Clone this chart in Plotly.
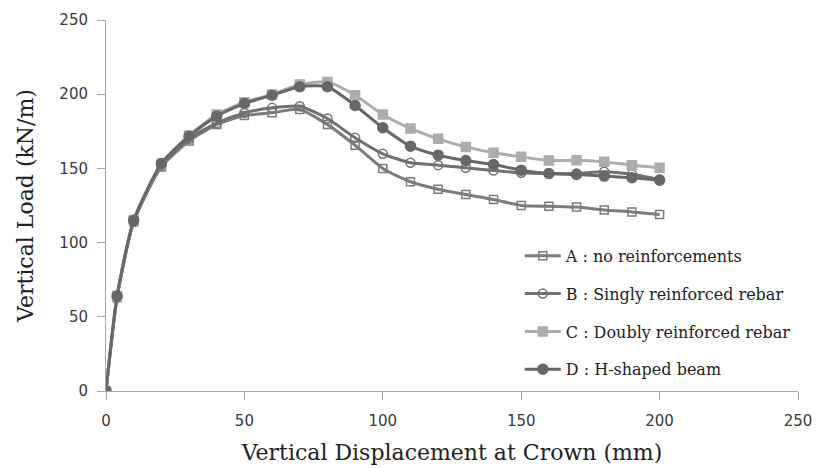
import plotly.graph_objects as go

x = [0, 4, 10, 20, 30, 40, 50, 60, 70, 80, 90, 100, 110, 120, 130, 140, 150, 160, 170, 180, 190, 200]
load_a = [0, 63, 114, 151, 168.5, 179.5, 185.6, 187.5, 189.7, 179.5, 165.6, 150, 141, 136, 132.4, 129, 125, 124.5, 124, 122, 120.7, 119]
load_b = [0, 63, 114, 152, 170, 180.5, 187.4, 190.8, 191.9, 183.6, 170.6, 159.8, 153.8, 152.2, 150.4, 148.6, 147, 146.5, 146.5, 147.7, 146, 142.5]
load_c = [0, 64, 115, 153, 172.2, 186.3, 194.6, 199.8, 206.5, 208.3, 199.3, 186.3, 176.9, 169.9, 164.5, 160.5, 157.8, 155.3, 155.5, 154.4, 152.2, 150.4]
load_d = [0, 64, 115, 153.3, 171.7, 185.2, 193.7, 199.3, 205, 205, 192.4, 177.4, 165, 158.9, 155.3, 152.6, 148.8, 146.6, 145.9, 144.8, 143.7, 142]

names = ["A : no reinforcements", "B : Singly reinforced rebar",
         "C : Doubly reinforced rebar", "D : H-shaped beam"]
series = [load_a, load_b, load_c, load_d]
colors = ["#7c7c7c", "#707070", "#acacac", "#676767"]
symbols = ["square-open", "circle-open", "square", "circle"]
msizes = [8, 9, 9, 10]

fig = go.Figure()
for n, y, c, s, ms in zip(names, series, colors, symbols, msizes):
    fig.add_trace(go.Scatter(
        x=x, y=y, name=n, mode="lines+markers",
        line=dict(color=c, width=3, shape="spline", smoothing=0.6),
        marker=dict(symbol=s, size=ms, color=c, line=dict(color=c, width=1.5)),
        legendgroup=n,
    ))

axis_common = dict(
    showgrid=False, zeroline=False, showline=True, linecolor="#a6a6a6", linewidth=1,
    ticks="outside", tickcolor="#a6a6a6", ticklen=8,
    tickfont=dict(family="DejaVu Sans", size=15, color="#3a3a3a"),
    range=[0, 250], dtick=50, automargin=False,
)

fig.update_layout(
    width=817, height=468,
    margin=dict(l=106, r=19, t=20, b=77),
    paper_bgcolor="white", plot_bgcolor="white",
    xaxis=dict(**axis_common, ticklabelstandoff=8,
               title=dict(text="Vertical Displacement at Crown (mm)",
                          font=dict(family="DejaVu Serif", size=22, color="#222222"),
                          standoff=15)),
    yaxis=dict(**axis_common, ticklabelstandoff=6,
               title=dict(text="Vertical Load (kN/m)",
                          font=dict(family="DejaVu Serif", size=22, color="#222222"),
                          standoff=19)),
    legend=dict(x=0.598, y=0.41, xanchor="left", yanchor="top",
                font=dict(family="DejaVu Serif", size=16, color="#222222"),
                bgcolor="rgba(0,0,0,0)", tracegroupgap=14, itemwidth=36),
    showlegend=True,
)

fig.write_html(
    "out.html",
    post_script="document.body.style.margin='0';document.body.style.overflow='hidden';"
                "document.documentElement.style.overflow='hidden';",
    config={"displayModeBar": False},
)
